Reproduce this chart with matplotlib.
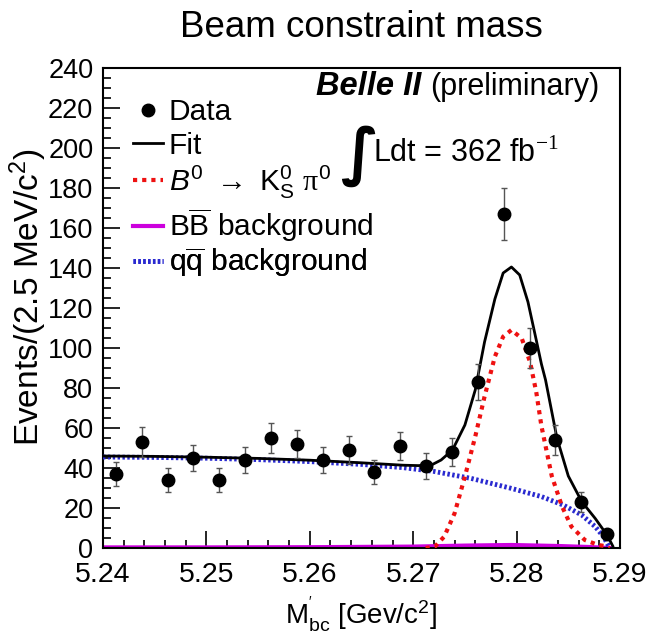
import matplotlib
matplotlib.use("Agg")
import matplotlib.pyplot as plt
from matplotlib.lines import Line2D
from matplotlib.ticker import MultipleLocator, FormatStrFormatter
import numpy as np

plt.rcParams['font.family'] = ['Liberation Sans', 'DejaVu Sans']
plt.rcParams['mathtext.fontset'] = 'custom'
plt.rcParams['mathtext.rm'] = 'Liberation Sans'
plt.rcParams['mathtext.it'] = 'Liberation Sans:italic'
plt.rcParams['mathtext.bf'] = 'Liberation Sans:bold'
plt.rcParams['mathtext.sf'] = 'Liberation Serif'

# DATA
bin_centers = [5.24125, 5.24375, 5.24625, 5.24875, 5.25125, 5.25375, 5.25625, 5.25875,
               5.26125, 5.26375, 5.26625, 5.26875, 5.27125, 5.27375, 5.27625, 5.27875,
               5.28125, 5.28375, 5.28625, 5.28875]
counts = [37, 53, 34, 45, 34, 44, 55, 52, 44, 49, 38, 51, 41, 48, 83, 167, 100, 54, 23, 7]

# fit curve
fit_x = [5.2400, 5.2450, 5.2500, 5.2550, 5.2600, 5.2650, 5.2690, 5.2705, 5.2718, 5.2727,
         5.2738, 5.2750, 5.2760, 5.2769, 5.2779, 5.2787, 5.2795, 5.2803, 5.2811, 5.2819,
         5.2824, 5.2828, 5.2839, 5.2850, 5.2863, 5.2876, 5.2884, 5.2890, 5.2893]
fit_y = [46.0, 45.8, 45.4, 44.8, 43.9, 42.6, 41.4, 41.2, 41.6, 44.0,
         49.0, 61.5, 79.0, 103.0, 124.5, 137.5, 140.5, 136.5, 123.0, 104.0,
         92.0, 84.0, 55.0, 36.0, 23.2, 14.8, 9.0, 4.0, 1.0]

# signal B0 -> Ks pi0
sig_x = [5.2712, 5.2721, 5.2730, 5.2740, 5.2750, 5.2760, 5.2769, 5.2779, 5.2787, 5.2795,
         5.2805, 5.2813, 5.2819, 5.2824, 5.2834, 5.2844, 5.2853, 5.2866, 5.2879, 5.2885, 5.2890]
sig_y = [0.0, 0.7, 5.7, 17.3, 35.7, 55.7, 75.7, 95.7, 105.7, 109.0,
         104.8, 93.0, 78.0, 61.0, 36.0, 20.7, 10.7, 4.0, 1.5, 1.0, 0.0]

# BB background
bb_x = [5.2400, 5.2500, 5.2600, 5.2700, 5.2750, 5.2795, 5.2840, 5.2870, 5.2890]
bb_y = [0.3, 0.3, 0.4, 0.7, 1.2, 1.5, 1.0, 0.5, 0.0]

# qq background
qq_x = [5.2400, 5.2450, 5.2500, 5.2550, 5.2600, 5.2650, 5.2690, 5.2720, 5.2756, 5.2795,
        5.2824, 5.2845, 5.2863, 5.2876, 5.2884, 5.2888, 5.2890]
qq_y = [45.5, 45.3, 44.9, 44.2, 43.2, 41.8, 40.2, 38.3, 34.8, 29.8,
        25.7, 21.5, 16.5, 10.7, 5.7, 2.0, 0.0]

fig = plt.figure(figsize=(6.48, 6.38), dpi=100)
ax = fig.add_axes([103/648, 1-548/638, 517/648, 480/638])

ax.plot(bb_x, bb_y, color='#cc00dd', lw=3, zorder=2)
ax.plot(qq_x, qq_y, color='#2a2ad0', lw=3.5, ls=(0, (0.5, 0.5)), zorder=3)
ax.plot(sig_x, sig_y, color='#ee1111', lw=3, ls=(0, (1, 1.2)), zorder=4)
ax.plot(fit_x, fit_y, color='black', lw=2, zorder=5)

err = np.sqrt(counts)
ax.errorbar(bin_centers, counts, yerr=err, fmt='o', color='black', ms=9,
            ecolor='#555555', elinewidth=1, capsize=2, capthick=1, zorder=6)

ax.set_xlim(5.24, 5.29)
ax.set_ylim(0, 240)
ax.xaxis.set_major_locator(MultipleLocator(0.01))
ax.xaxis.set_minor_locator(MultipleLocator(0.002))
ax.yaxis.set_major_locator(MultipleLocator(20))
ax.yaxis.set_minor_locator(MultipleLocator(5))
ax.xaxis.set_major_formatter(FormatStrFormatter('%.2f'))
ax.tick_params(which='both', direction='in', top=False, right=False, width=1.2)
ax.tick_params(which='major', length=12)
ax.tick_params(which='minor', length=6)
ax.tick_params(axis='x', pad=10, labelsize=20.5)
ax.tick_params(axis='y', pad=7, labelsize=19.5)
for s in ax.spines.values():
    s.set_linewidth(1.5)

ax.set_xlabel(r"M$^{'}_{\mathrm{bc}}$ [Gev/c$^{2}$]", fontsize=20, labelpad=5)
ax.set_ylabel(r"Events/(2.5 MeV/c$^{2}$)", fontsize=24)
ax.yaxis.set_label_coords(-0.105, 0.523)
ax.set_title("Beam constraint mass", fontsize=26.5, pad=22)

# legend: one entry per row so the rows sit where the reference has them
handles = [
    Line2D([], [], marker='o', ls='none', color='black', ms=9),
    Line2D([], [], color='black', lw=2),
    Line2D([], [], color='#ee1111', lw=3, ls=(0, (1, 1.2))),
    Line2D([], [], color='#cc00dd', lw=3),
    Line2D([], [], color='#2a2ad0', lw=3.5, ls=(0, (0.5, 0.5))),
]
labels = [
    "Data",
    "Fit",
    r"$B^{0}$ $\rightarrow$ K$^{0}_{\mathrm{S}}$ $\mathsf{\pi}^{0}$",
    r"B$\overline{\mathrm{B}}$ background",
    r"q$\overline{\mathrm{q}}$ background",
]
row_y = [0.908, 0.838, 0.762, 0.672, 0.594]
for h, lab, yy in zip(handles, labels, row_y):
    leg = ax.legend([h], [lab], loc='center left', bbox_to_anchor=(0.058, yy), frameon=False,
                    fontsize=21.5, handlelength=1.0, handletextpad=0.2,
                    borderpad=0, borderaxespad=0)
    ax.add_artist(leg)

ax.text(0.412, 0.944, "Belle II", transform=ax.transAxes, ha='left', va='baseline',
        fontsize=23.5, fontweight='bold', fontstyle='italic')
ax.text(0.961, 0.944, "(preliminary)", transform=ax.transAxes, ha='right', va='baseline',
        fontsize=22)
ax.text(0.496, 0.817, "\u222b", transform=ax.transAxes, ha='center', va='center',
        fontsize=45, family='DejaVu Sans', fontweight='bold')
ax.text(0.522, 0.804, r"Ldt = 362 fb$^{\mathsf{-1}}$", transform=ax.transAxes,
        ha='left', va='baseline', fontsize=22)

fig.savefig("out.png", dpi=100)
